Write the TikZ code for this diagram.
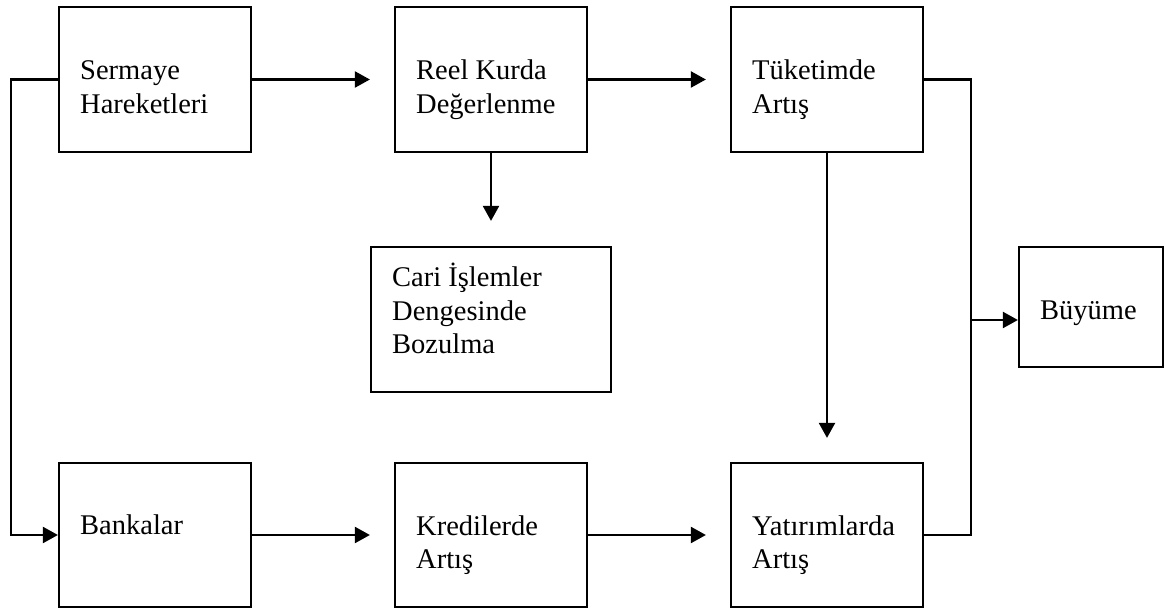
\documentclass[tikz,border=0pt]{standalone}
\usepackage{fontspec}
\setmainfont{Liberation Serif}
\usetikzlibrary{arrows.meta}
\begin{document}
\begin{tikzpicture}[x=1pt,y=-1pt,
  boxnode/.style={draw,line width=2.2pt,inner sep=0pt,rectangle},
  txt/.style={anchor=base west,inner sep=0pt,font=\fontsize{28.5}{33.5}\selectfont},
  conn/.style={line width=2.2pt,line join=miter},
  arr/.style={conn,-{Triangle[length=15pt,width=16pt]}},
]
\useasboundingbox (0,0) rectangle (1165,609);
% boxes
\node[boxnode,minimum width=192pt,minimum height=145pt] (serm) at (155,79.5) {};
\node[boxnode,minimum width=192pt,minimum height=145pt] (reel) at (491,79.5) {};
\node[boxnode,minimum width=192pt,minimum height=145pt] (tuk) at (827,79.5) {};
\node[boxnode,minimum width=240pt,minimum height=145pt] (cari) at (491,319.5) {};
\node[boxnode,minimum width=144pt,minimum height=120pt] (buy) at (1091,307) {};
\node[boxnode,minimum width=192pt,minimum height=144pt] (bank) at (155,535) {};
\node[boxnode,minimum width=192pt,minimum height=144pt] (kred) at (491,535) {};
\node[boxnode,minimum width=192pt,minimum height=144pt] (yat) at (827,535) {};
% texts
\node[txt] (tserm) at (80,80) {\parbox[t]{180pt}{\raggedright Sermaye\\Hareketleri}};
\node[txt] (treel) at (416,80) {\parbox[t]{180pt}{\raggedright Reel Kurda\\Değerlenme}};
\node[txt] (ttuk) at (752,80) {\parbox[t]{180pt}{\raggedright Tüketimde\\Artış}};
\node[txt] (tcari) at (392,287) {\parbox[t]{220pt}{\raggedright Cari İşlemler\\Dengesinde\\Bozulma}};
\node[txt] (tbuy) at (1040,320) {Büyüme};
\node[txt] (tbank) at (80,534) {Bankalar};
\node[txt] (tkred) at (416,535) {\parbox[t]{180pt}{\raggedright Kredilerde\\Artış}};
\node[txt] (tyat) at (752,535) {\parbox[t]{180pt}{\raggedright Yatırımlarda\\Artış}};
% junction coordinates
\coordinate (jl) at (11,0);
\coordinate (jr) at (971,0);
\coordinate (jb) at (971,320);
% connectors
\draw[arr] (serm.west) -- (serm.west -| jl) |- (bank.west);
\draw[arr,shorten >=24pt] (serm.east) -- (reel.west);
\draw[arr,shorten >=24pt] (reel.east) -- (tuk.west);
\draw[arr,shorten >=25pt] (reel.south) -- (cari.north);
\draw[arr,shorten >=24pt] (tuk.south) -- (yat.north);
\draw[conn] (tuk.east) -- (tuk.east -| jr) |- (yat.east);
\draw[arr] (jb) -- (jb -| buy.west);
\draw[arr,shorten >=24pt] (bank.east) -- (kred.west);
\draw[arr,shorten >=24pt] (kred.east) -- (yat.west);
\end{tikzpicture}
\end{document}
